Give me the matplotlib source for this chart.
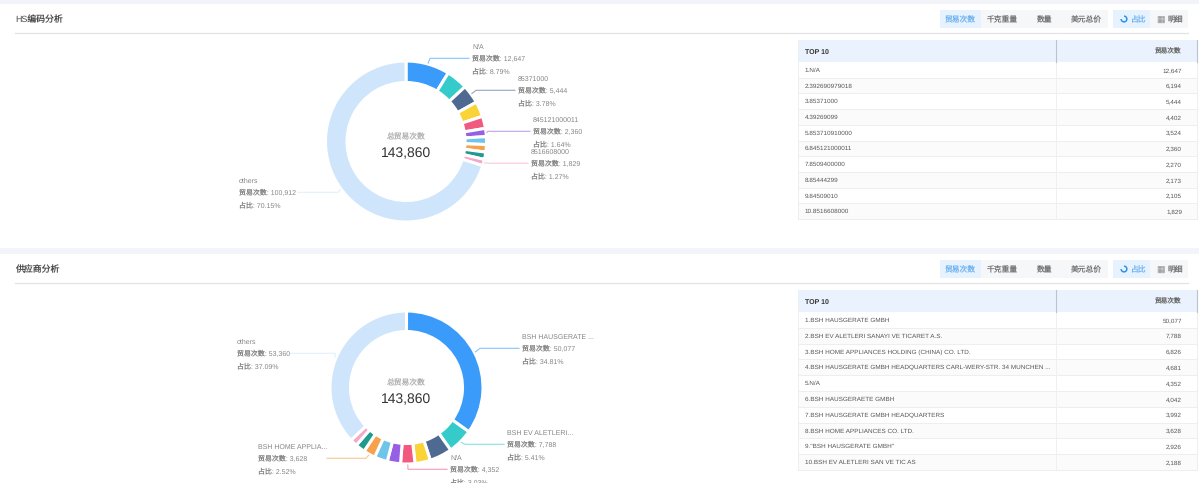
import numpy as np
import matplotlib
matplotlib.use('Agg')
from matplotlib import pyplot as plt
from matplotlib.patches import Rectangle

plt.rcParams['font.family'] = ['Liberation Sans', 'Noto Sans CJK SC', 'DejaVu Sans']
plt.rcParams['text.hinting'] = 'none'

hs_names = ['N/A', '392690979018', '85371000', '39269099', '853710910000', '845121000011',
            '8509400000', '85444299', '84509010', '8516608000']
hs_vals = [12647, 6194, 5444, 4402, 3524, 2360, 2270, 2173, 2105, 1829]
hs_others = 100912

sup_names = ['BSH HAUSGERATE GMBH', 'BSH EV ALETLERI SANAYI VE TICARET A.S.',
             'BSH HOME APPLIANCES HOLDING (CHINA) CO. LTD.',
             'BSH HAUSGERATE GMBH HEADQUARTERS CARL-WERY-STR. 34 MUNCHEN ...',
             'N/A', 'BSH HAUSGERAETE GMBH', 'BSH HAUSGERATE GMBH HEADQUARTERS',
             'BSH HOME APPLIANCES CO. LTD.', '"BSH HAUSGERATE GMBH"', 'BSH EV ALETLERI SAN VE TIC AS']
sup_vals = [50077, 7788, 6826, 4681, 4352, 4042, 3992, 3628, 2926, 2188]
sup_others = 53360

total = 143860
colors = ['#3a9bfb', '#36cbcb', '#4f6a92', '#fad337', '#f2597f', '#975fe4',
          '#6ec5e9', '#f7a14d', '#1f9a8e', '#f5a6c9', '#cfe5fb']
buttons = ['贸易次数', '千克重量', '数量', '美元总价']

GREY = '#858585'
DARK = '#555555'

fig = plt.figure(figsize=(11.99, 4.83), dpi=100, facecolor='#f2f4fa')
ax = fig.add_axes([0, 0, 1, 1])


def panel(top, bottom, title):
    ax.add_patch(Rectangle((0, top), 1199, bottom - top, fc='white', ec='none', zorder=0))
    ax.text(15, top + 18.5, title, fontsize=6.4, color='#4a4a4a', va='baseline')
    ax.plot([15, 1188], [top + 28.8, top + 28.8], color='#e3e3e3', lw=0.9, zorder=1)

    y0 = top + 6
    h = 18
    edges = [940, 981, 1024, 1066, 1108]
    for i, b in enumerate(buttons):
        ax.add_patch(Rectangle((edges[i], y0), edges[i + 1] - edges[i], h,
                               fc='#e6f2fd' if i == 0 else '#f6f7f9', ec='none', zorder=1))
        ax.text((edges[i] + edges[i + 1]) / 2, y0 + h / 2 + 3, b, fontsize=5.6,
                color='#6fb2f0' if i == 0 else '#777777', ha='center', va='baseline')
    ax.add_patch(Rectangle((1113, y0), 37, h, fc='#e6f2fd', ec='none', zorder=1))
    ax.add_patch(Rectangle((1150, y0), 38, h, fc='#f6f7f9', ec='none', zorder=1))
    ax.pie([3, 1], colors=['#2f8fe8', '#e6f2fd'], center=(1124, y0 + h / 2), radius=3.6,
           startangle=-90, counterclock=True, wedgeprops=dict(width=1.5), frame=True)
    ax.text(1131, y0 + h / 2 + 3, '占比', fontsize=5.6, color='#6fb2f0', va='baseline')
    ax.text(1156.5, y0 + h / 2, '▦', fontsize=6.5, color='#888888', va='center', family='DejaVu Sans')
    ax.text(1168, y0 + h / 2 + 3, '明细', fontsize=5.6, color='#777777', va='baseline')


def donut(vals, others, cx, cy, r, w, labels):
    all_vals = vals + [others]
    # white edge eats half its width, so draw the ring a bit bigger
    wedges, _ = ax.pie(all_vals, colors=colors, center=(cx, cy), radius=r + 1, startangle=-90,
                       counterclock=True, frame=True,
                       wedgeprops=dict(width=w + 2.5, edgecolor='white', linewidth=2.2))
    for name, idx, x, y, start_x, elbow_x in labels:
        v = all_vals[idx]
        ax.text(x, y + 2.5, name, fontsize=5.0, color=GREY, va='baseline')
        ax.text(x, y + 14.8, '贸易次数: %s' % format(v, ','), fontsize=5.0, color=GREY, va='baseline')
        ax.text(x, y + 27.3, '占比: %.2f%%' % (100 * v / total), fontsize=5.0, color=GREY, va='baseline')
        th = np.radians((wedges[idx].theta1 + wedges[idx].theta2) / 2)
        ax.plot([start_x, elbow_x, cx + (r + 2) * np.cos(th)],
                [y + 12.3, y + 12.3, cy + (r + 2) * np.sin(th)],
                color=colors[idx], lw=0.8, alpha=0.6, zorder=1)
    ax.text(cx, cy - 2, '总贸易次数', fontsize=5.6, color='#b0b0b0', ha='center', va='baseline')
    ax.text(cx, cy + 15.8, format(total, ','), fontsize=10, color='#333333', ha='center', va='baseline')


def table(top, names, vals, row_h):
    ax.add_patch(Rectangle((798, top), 399, 22, fc='#eaf2fd', ec='none', zorder=1))
    ax.plot([1056, 1056], [top, top + 22], color='#b8c2d0', lw=0.8, zorder=2)
    ax.plot([1197, 1197], [top, top + 22], color='#b8c2d0', lw=0.8, zorder=2)
    ax.text(805, top + 13.5, 'TOP 10', fontsize=5.0, color='#333333', weight='bold', va='baseline')
    ax.text(1182, top + 13.5, '贸易次数', fontsize=4.8, color='#666666', ha='right', va='baseline')
    for i, (n, v) in enumerate(zip(names, vals)):
        yt = top + 22 + i * row_h
        if i % 2 == 1:
            ax.add_patch(Rectangle((798, yt), 399, row_h, fc='#fbfbfb', ec='none', zorder=0.5))
        ax.plot([798, 1197], [yt + row_h, yt + row_h], color='#eeeeee', lw=0.7, zorder=1)
        ax.text(805, yt + row_h / 2 + 2, '%d.%s' % (i + 1, n), fontsize=4.6, color=DARK, va='baseline')
        ax.text(1182, yt + row_h / 2 + 2, format(v, ','), fontsize=4.6, color=DARK, ha='right', va='baseline')
    yb = top + 22 + len(vals) * row_h
    ax.plot([798, 798], [top, yb], color='#eeeeee', lw=0.7, zorder=1)
    ax.plot([1197, 1197], [top + 22, yb], color='#eeeeee', lw=0.7, zorder=1)
    ax.plot([1056, 1056], [top + 22, yb], color='#f0f0f0', lw=0.7, zorder=1)


panel(4, 248, 'HS编码分析')
panel(254, 483, '供应商分析')

donut(hs_vals, hs_others, 406, 141.5, 79.5, 19, [
    ('N/A', 0, 472, 46, 469, 430),
    ('85371000', 2, 518, 78, 515, 476),
    ('845121000011', 5, 533, 119, 530, 488),
    ('8516608000', 9, 531, 151, 528, 490),
    ('others', 10, 239, 180, 298, 338),
])
donut(sup_vals, sup_others, 406.5, 387.5, 75.5, 18, [
    ('BSH HAUSGERATE ...', 0, 522, 336, 519, 480),
    ('BSH EV ALETLERI...', 1, 507, 432, 504, 465),
    ('N/A', 4, 450, 457, 447, 408),
    ('BSH HOME APPLIA...', 7, 258, 446, 327, 366),
    ('others', 10, 237, 341, 291, 335),
])

table(40, hs_names, hs_vals, 15.7)
table(290, sup_names, sup_vals, 15.8)

ax.set_xlim(0, 1199)
ax.set_ylim(483, 0)
ax.set_aspect('auto')
ax.axis('off')

plt.savefig('out.png', dpi=100, facecolor=fig.get_facecolor())
